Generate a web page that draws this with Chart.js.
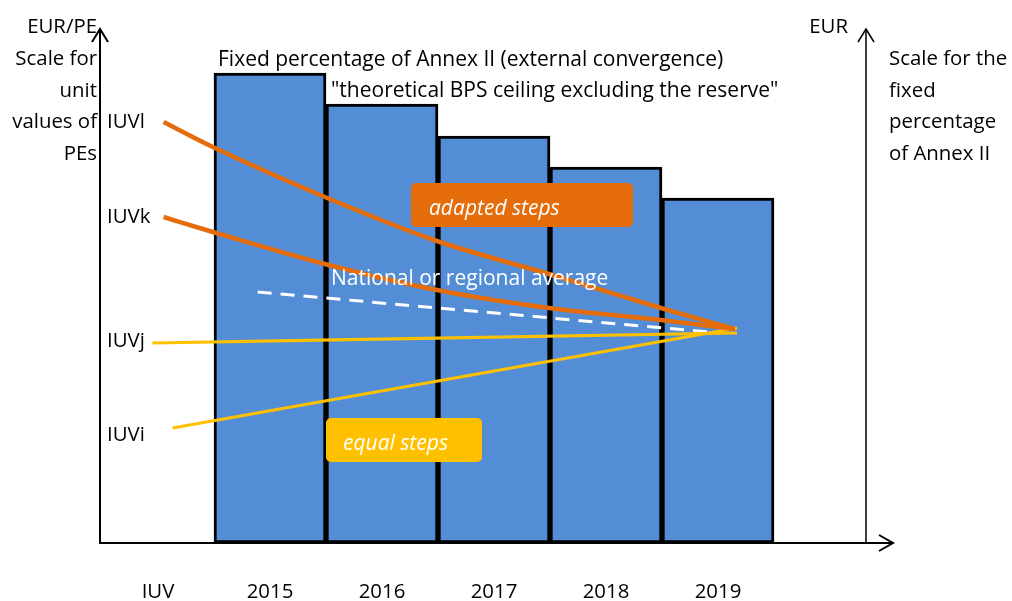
<!DOCTYPE html>
<html>
<head>
<meta charset="utf-8">
<script src="https://cdn.jsdelivr.net/npm/chart.js@4.4.1/dist/chart.umd.min.js"></script>
<style>
  html, body { margin: 0; padding: 0; background: #fff; }
  #wrap { width: 1012px; height: 601px; }
</style>
</head>
<body>
<div id="wrap"><canvas id="chart" width="1012" height="601"></canvas></div>
<script>
// categories along the time axis (IUV column + programme years)
const catLabels = ["IUV", "2015", "2016", "2017", "2018", "2019"];
const years = [1, 2, 3, 4, 5];
// fixed percentage of Annex II, theoretical BPS ceiling (arbitrary EUR units)
const ceiling = [470, 439, 407, 376, 345];

// unit values per entitlement, positions along the year axis
const iuvlX = [0.05, 0.49, 1.49, 2.49, 3.49, 4.49, 5.15];
const iuvlY = [421, 396, 346, 302, 269, 235, 214];
const iuvkX = [0.05, 0.49, 1.49, 2.49, 3.49, 4.49, 5.15];
const iuvkY = [326, 311, 279, 253, 235, 223, 214];
const iuvjX = [-0.05, 5.17];
const iuvjY = [200, 210];
const iuviX = [0.13, 5.17];
const iuviY = [115, 215];
const avgX = [0.89, 5.02];
const avgY = [251, 210];

const BLUE = "#538dd5";
const ORANGE = "#e46c0a";
const YELLOW = "#ffc000";
const FONT = "'Open Sans', Lato, sans-serif";
const SMALL = "20.4px " + FONT;
const BIG = "21px " + FONT;

const pts = (xs, ys) => xs.map((x, i) => ({ x: x, y: ys[i] }));

function arrowUp(ctx, x, yTop, yBottom, w) {
  ctx.lineWidth = w;
  ctx.beginPath();
  ctx.moveTo(x, yBottom);
  ctx.lineTo(x, yTop);
  ctx.stroke();
  ctx.beginPath();
  ctx.moveTo(x - 8, yTop + 13);
  ctx.lineTo(x, yTop);
  ctx.lineTo(x + 8, yTop + 13);
  ctx.stroke();
}

const decor = {
  id: "decor",
  afterDatasetsDraw(chart) {
    const ctx = chart.ctx;
    const xs = chart.scales.x;
    const ys = chart.scales.y;
    const y0 = ys.getPixelForValue(0);
    ctx.save();
    ctx.strokeStyle = "#000";
    ctx.lineCap = "butt";

    // axes with arrows
    arrowUp(ctx, 100, 29, y0 + 1, 2);
    arrowUp(ctx, 866, 29, y0 + 1, 1.5);
    ctx.lineWidth = 2;
    ctx.beginPath();
    ctx.moveTo(99, y0);
    ctx.lineTo(893, y0);
    ctx.stroke();
    ctx.beginPath();
    ctx.moveTo(879, y0 - 8);
    ctx.lineTo(893, y0);
    ctx.lineTo(879, y0 + 8);
    ctx.stroke();

    const txt = (s, x, y, align, color, font) => {
      ctx.font = font || SMALL;
      ctx.fillStyle = color || "#000";
      ctx.textAlign = align || "left";
      ctx.textBaseline = "alphabetic";
      ctx.fillText(s, x, y);
    };

    // category labels
    catLabels.forEach((l, i) => txt(l, xs.getPixelForValue(i), 598, "center"));

    // left scale caption
    txt("EUR/PE", 97, 33, "right");
    ["Scale for", "unit", "values of", "PEs"].forEach((s, i) => txt(s, 97, 65 + i * 31.5, "right"));
    // right scale caption
    txt("EUR", 848, 33, "right");
    ["Scale for the", "fixed", "percentage", "of Annex II"].forEach((s, i) => txt(s, 889, 65 + i * 31.5));

    // IUV labels
    txt("IUVl", 107, 128);
    txt("IUVk", 107, 223);
    txt("IUVj", 107, 347);
    txt("IUVi", 107, 441);

    // titles
    txt("Fixed percentage of Annex II (external convergence)", 218, 66, "left", "#000", BIG);
    txt("\"theoretical BPS ceiling excluding the reserve\"", 331, 97, "left", "#000", BIG);
    txt("National or regional average", 331, 285, "left", "#fff", BIG);

    // step boxes
    ctx.fillStyle = ORANGE;
    ctx.beginPath();
    ctx.roundRect(411, 183, 222, 44, 5);
    ctx.fill();
    txt("adapted steps", 429, 215, "left", "#fff", "italic 21px " + FONT);
    ctx.fillStyle = YELLOW;
    ctx.beginPath();
    ctx.roundRect(326, 418, 156, 44, 5);
    ctx.fill();
    txt("equal steps", 343, 450, "left", "#fff", "italic 21px " + FONT);
    ctx.restore();
  }
};

const lineDs = (label, data, color, width, extra) => Object.assign({
  type: "line",
  label: label,
  data: data,
  borderColor: color,
  borderWidth: width,
  pointRadius: 0,
  fill: false,
  cubicInterpolationMode: "monotone",
  order: 0
}, extra || {});

new Chart(document.getElementById("chart"), {
  data: {
    datasets: [
      lineDs("IUVl", pts(iuvlX, iuvlY), ORANGE, 4.5),
      lineDs("IUVk", pts(iuvkX, iuvkY), ORANGE, 4.5),
      lineDs("IUVj", pts(iuvjX, iuvjY), YELLOW, 3.2),
      lineDs("IUVi", pts(iuviX, iuviY), YELLOW, 3.2),
      lineDs("National or regional average", pts(avgX, avgY), "#fff", 3, { borderDash: [14, 9] }),
      {
        type: "bar",
        label: "Fixed percentage of Annex II",
        data: pts(years, ceiling),
        backgroundColor: BLUE,
        borderColor: "#000",
        borderWidth: 3,
        borderSkipped: false,
        barThickness: 112,
        order: 1
      }
    ]
  },
  options: {
    responsive: false,
    animation: false,
    devicePixelRatio: 1,
    layout: { padding: 0 },
    plugins: { legend: { display: false }, tooltip: { enabled: false } },
    scales: {
      x: { type: "linear", min: -158 / 112, max: (1012 - 158) / 112, offset: false, display: false },
      y: { type: "linear", min: -58, max: 543, display: false }
    }
  },
  plugins: [decor]
});
</script>
</body>
</html>
